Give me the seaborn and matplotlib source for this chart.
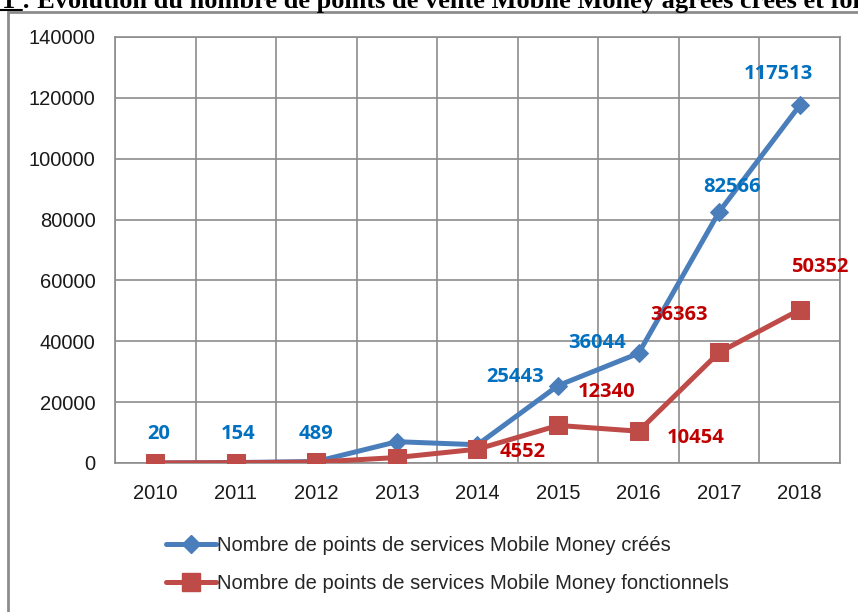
import matplotlib
matplotlib.use("Agg")
import matplotlib.pyplot as plt
import matplotlib.lines as mlines
import matplotlib.patches as mpatches
import pandas as pd
import seaborn as sns

years = ["2010", "2011", "2012", "2013", "2014", "2015", "2016", "2017", "2018"]
crees = [20, 154, 489, 7000, 6000, 25443, 36044, 82566, 117513]
fonctionnels = [10, 100, 300, 1800, 4552, 12340, 10454, 36363, 50352]

label_crees = "Nombre de points de services Mobile Money créés"
label_fonct = "Nombre de points de services Mobile Money fonctionnels"

# which points get a value label, and where (offset in pixels)
crees_labels = {0: (3, 29), 1: (2, 29), 2: (0, 28), 5: (-43, 9), 6: (-42, 10),
                7: (13, 25), 8: (-21, 31)}
fonct_labels = {4: (45, -3), 5: (49, 33), 6: (57, -7), 7: (-40, 37), 8: (20, 43)}

BLUE = "#4A7EBB"
RED = "#BE4B48"
BLUE_TXT = "#0070C0"
RED_TXT = "#C00000"
GRID = "#8C8C8C"

sns.set_style("white")
plt.rcParams["font.family"] = ["Liberation Sans", "DejaVu Sans"]

df = pd.DataFrame({"x": range(len(years)), "crees": crees, "fonct": fonctionnels})

fig = plt.figure(figsize=(8.58, 6.12), dpi=100)
ax = fig.add_axes([115 / 858, 1 - 463 / 612, 725 / 858, 426 / 612])

sns.lineplot(data=df, x="x", y="crees", ax=ax, color=BLUE, lw=3.6,
             marker="D", markersize=9, markeredgecolor=BLUE, zorder=4)
sns.lineplot(data=df, x="x", y="fonct", ax=ax, color=RED, lw=3.6,
             marker="s", markersize=13.5, markeredgecolor=RED, zorder=5)

ax.set_xlim(-0.5, len(years) - 0.5)
ax.set_ylim(0, 140000)
ax.set_yticks(range(0, 140001, 20000))
ax.set_xticks(range(len(years)))
ax.set_xticklabels(years)
ax.set_xticks([i + 0.5 for i in range(-1, len(years))], minor=True)
ax.set_xlabel("")
ax.set_ylabel("")

ax.grid(True, axis="y", color=GRID, lw=1.2)
ax.grid(True, axis="x", which="minor", color=GRID, lw=1.2)
ax.grid(False, axis="x", which="major")
for s in ax.spines.values():
    s.set_color(GRID)
    s.set_linewidth(1.2)
ax.tick_params(axis="x", which="major", length=0, labelsize=14.5, pad=15)
ax.tick_params(axis="x", which="minor", length=6, color=GRID, width=1.2)
ax.tick_params(axis="y", length=6, color=GRID, width=1.2, labelsize=14.5, pad=8)
for t in ax.get_xticklabels() + ax.get_yticklabels():
    t.set_color("#1a1a1a")

for i, (dx, dy) in crees_labels.items():
    ax.annotate(str(crees[i]), (i, crees[i]), xytext=(dx, dy), textcoords="offset pixels",
                ha="center", va="center", color=BLUE_TXT, fontsize=14.5,
                fontweight="bold", family=["Open Sans", "DejaVu Sans"], zorder=6)
for i, (dx, dy) in fonct_labels.items():
    ax.annotate(str(fonctionnels[i]), (i, fonctionnels[i]), xytext=(dx, dy),
                textcoords="offset pixels", ha="center", va="center", color=RED_TXT,
                fontsize=14.5, fontweight="bold", family=["Open Sans", "DejaVu Sans"], zorder=6)

h1 = mlines.Line2D([], [], color=BLUE, lw=3.6, marker="D", markersize=9)
h2 = mlines.Line2D([], [], color=RED, lw=3.6, marker="s", markersize=13.5)
fig.legend([h1, h2], [label_crees, label_fonct], loc="upper left",
           bbox_to_anchor=(158 / 858, 1 - 528 / 612), frameon=False, fontsize=14.5,
           handlelength=2.5, handletextpad=0.05, labelspacing=0.95, borderaxespad=0)

# outer chart frame
fig.add_artist(mpatches.Rectangle((8 / 858, -0.02), 1.0, 1 - 12 / 612 + 0.02,
                                  transform=fig.transFigure, fill=False,
                                  edgecolor="#8C8C8C", lw=2))

# title, cut off at the top of the image as in the source
fig.text(2 / 858, 1 - 8 / 612,
         "1 : Évolution du nombre de points de vente Mobile Money agréés créés et fonctionnels",
         ha="left", va="baseline", fontsize=19, fontweight="bold",
         family=["Liberation Serif", "DejaVu Serif"], color="#000000")
fig.add_artist(mlines.Line2D([0, 22 / 858], [1 - 10 / 612] * 2, color="black",
                             lw=1.5, transform=fig.transFigure))

fig.savefig("out.png", dpi=100)
